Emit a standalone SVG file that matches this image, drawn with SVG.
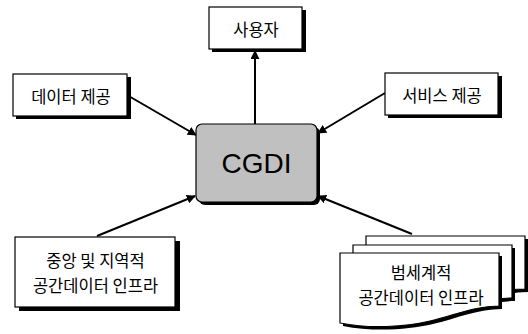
<svg xmlns="http://www.w3.org/2000/svg" width="528" height="334" viewBox="0 0 528 334">
<style>
.box{fill:#fff;stroke:#000;stroke-width:1.2}
.sh{fill:#000}
.t{font-family:"Noto Sans CJK KR","Noto Sans",sans-serif;font-size:16.5px;fill:#000;text-anchor:middle}
.c{stroke:#000;stroke-width:2;fill:none;marker-end:url(#ah)}
</style>
<defs>
<marker id="ah" viewBox="0 0 10 10" refX="9" refY="5" markerWidth="4.5" markerHeight="4.5" orient="auto" markerUnits="strokeWidth">
<path d="M0,0 L10,5 L0,10 Z" fill="#000"/>
</marker>
<path id="doc" d="M0,0 H159 V53 C135,53 115,62 90,68 C65,74 30,76 0,70 Z"/>
</defs>
<g id="connectors">
<line class="c" x1="255" y1="124" x2="255" y2="51"/>
<line class="c" x1="127" y1="95" x2="196" y2="135"/>
<line class="c" x1="385" y1="93" x2="318" y2="133"/>
<line class="c" x1="97" y1="236" x2="195" y2="196"/>
<line class="c" x1="412" y1="234" x2="318" y2="196"/>
</g>
<g id="user">
<rect class="sh" x="212" y="10" width="94" height="42"/>
<rect class="box" x="209" y="7" width="93" height="42"/>
<text class="t" x="256" y="36">사용자</text>
</g>
<g id="data">
<rect class="sh" x="16" y="77" width="115" height="42"/>
<rect class="box" x="13" y="74" width="114" height="42"/>
<text class="t" x="71" y="103">데이터 제공</text>
</g>
<g id="service">
<rect class="sh" x="388" y="76" width="114" height="42"/>
<rect class="box" x="385" y="73" width="113" height="42"/>
<text class="t" x="442" y="102">서비스 제공</text>
</g>
<g id="cgdi">
<rect x="199" y="127" width="121" height="78" rx="6" fill="#000"/>
<rect x="196" y="124" width="121" height="78" rx="6" fill="#c0c0c0" stroke="#000" stroke-width="1.2"/>
<text x="256.5" y="173" font-family="Liberation Sans,Arial,sans-serif" font-size="28" text-anchor="middle">CGDI</text>
</g>
<g id="national">
<rect class="sh" x="19" y="241" width="161" height="70"/>
<rect class="box" x="15" y="237" width="160" height="70"/>
<text class="t" x="95.5" y="267">중앙 및 지역적</text>
<text class="t" x="95.5" y="291.5">공간데이터 인프라</text>
</g>
<g id="global">
<use href="#doc" x="369" y="239" fill="#000"/>
<use href="#doc" x="366" y="236" fill="#fff" stroke="#000" stroke-width="1.2"/>
<use href="#doc" x="356" y="248" fill="#000"/>
<use href="#doc" x="353" y="245" fill="#fff" stroke="#000" stroke-width="1.2"/>
<use href="#doc" x="343" y="256" fill="#000"/>
<use href="#doc" x="340" y="253" fill="#fff" stroke="#000" stroke-width="1.2"/>
<text class="t" x="421" y="279">범세계적</text>
<text class="t" x="421" y="303.5">공간데이터 인프라</text>
</g>
</svg>
